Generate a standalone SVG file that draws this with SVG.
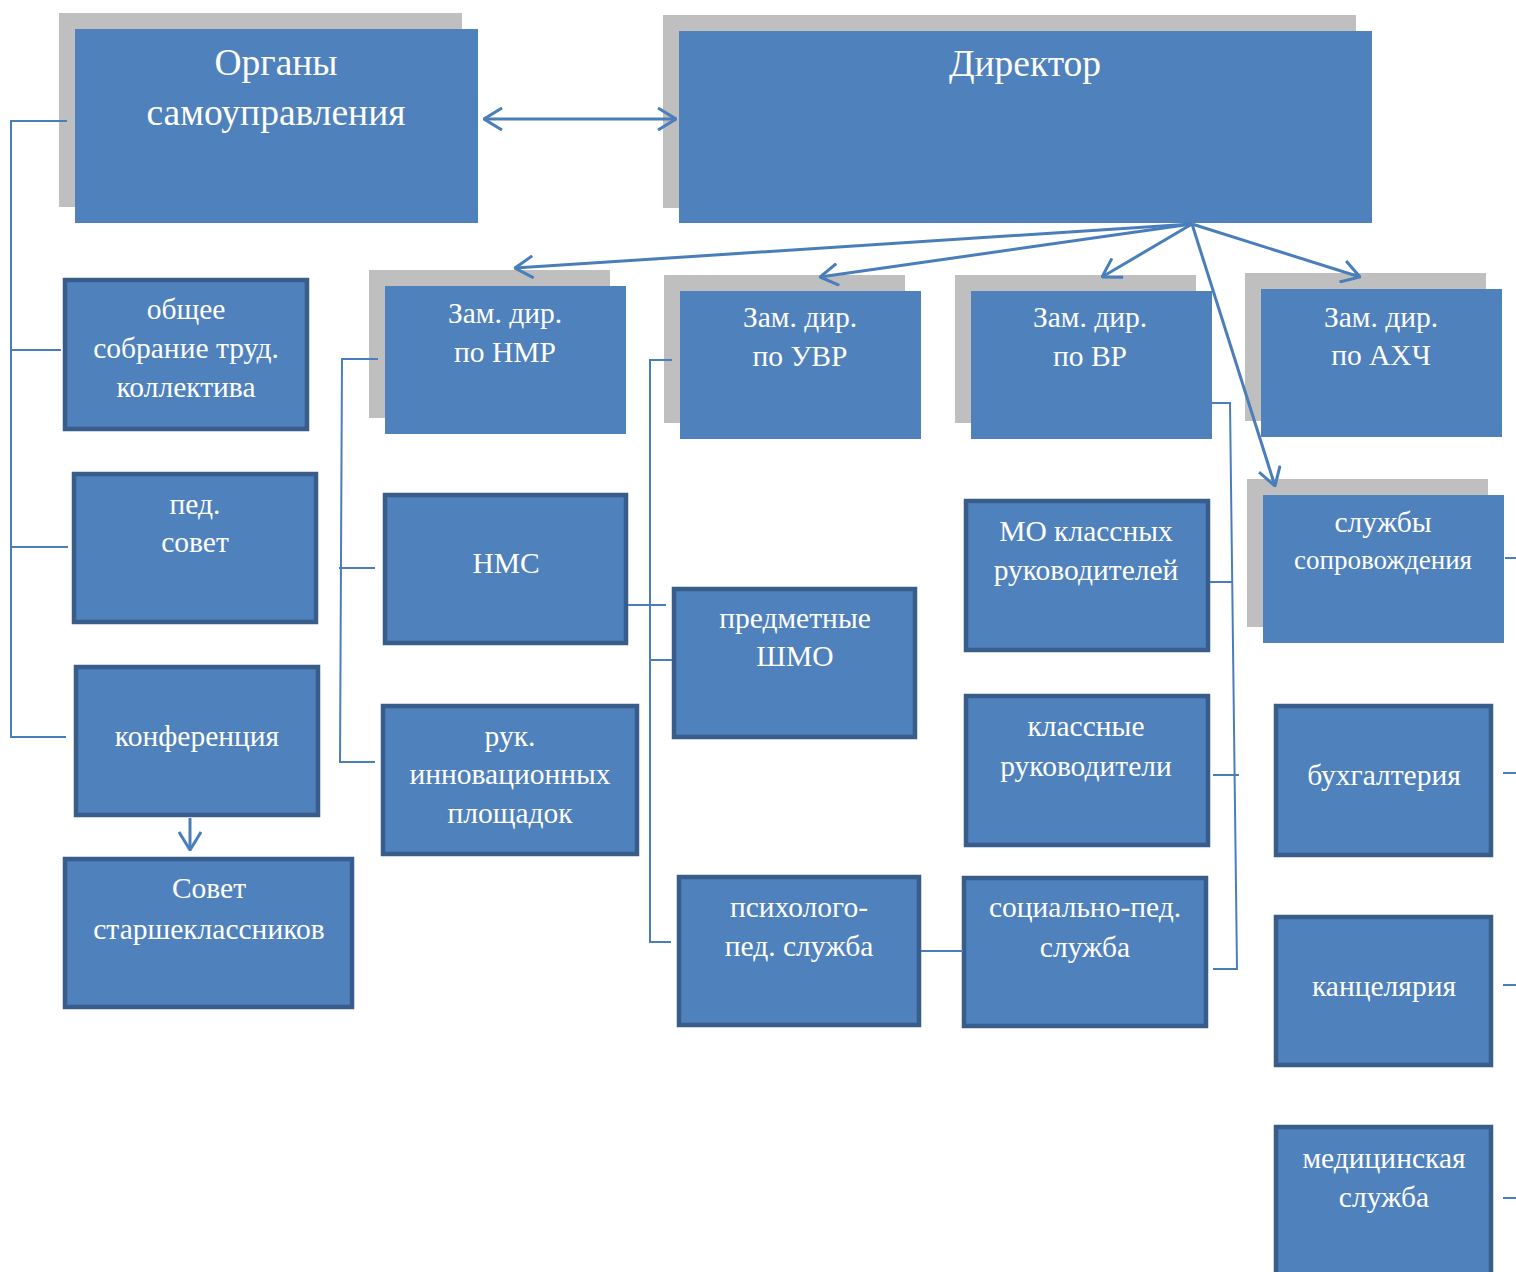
<svg xmlns="http://www.w3.org/2000/svg" width="1516" height="1272" viewBox="0 0 1516 1272">
  <style>
    .shadow { fill: #bfbfbf; }
    .main { fill: #4f81bd; }
    .box { fill: #4f81bd; stroke: #385d8a; stroke-width: 4.5; }
    .t { font-family: "Liberation Serif", "Times New Roman", serif; fill: #ffffff; text-anchor: middle; }
    .big { font-size: 37.5px; }
    .mid { font-size: 29.5px; }
    .small { font-size: 27px; }
    .link { fill: none; stroke: #4a7ebb; stroke-width: 2; }
    .arrow { fill: none; stroke: #4a7ebb; stroke-width: 3; }
  </style>
  <defs>
    <marker id="head" viewBox="0 0 20 24" refX="19" refY="12" markerWidth="20" markerHeight="24" markerUnits="userSpaceOnUse" orient="auto-start-reverse">
      <path d="M1,1 L19,12 L1,23" fill="none" stroke="#4a7ebb" stroke-width="3"/>
    </marker>
  </defs>
  <rect width="1516" height="1272" fill="#ffffff"/>

  <g id="organy">
    <rect class="shadow" x="59" y="13" width="403" height="194"/>
    <rect class="main" x="75" y="29" width="403" height="194"/>
    <text class="t big" x="276" y="75">Органы</text>
    <text class="t big" x="276" y="125">самоуправления</text>
  </g>

  <g id="direktor">
    <rect class="shadow" x="663" y="15" width="693" height="193"/>
    <rect class="main" x="679" y="31" width="693" height="192"/>
    <text class="t big" x="1025" y="76">Директор</text>
  </g>

  <g id="obshchee-sobranie">
    <rect class="box" x="65" y="280" width="242" height="149"/>
    <text class="t mid" x="186" y="319">общее</text>
    <text class="t mid" x="186" y="358">собрание труд.</text>
    <text class="t mid" x="186" y="397">коллектива</text>
  </g>

  <g id="ped-sovet">
    <rect class="box" x="74" y="474" width="242" height="148"/>
    <text class="t mid" x="195" y="514">пед.</text>
    <text class="t mid" x="195" y="552">совет</text>
  </g>

  <g id="konferentsiya">
    <rect class="box" x="76" y="667" width="242" height="148"/>
    <text class="t mid" x="197" y="746">конференция</text>
  </g>

  <g id="sovet-starsheklassnikov">
    <rect class="box" x="65" y="859" width="287" height="148"/>
    <text class="t mid" x="209" y="898">Совет</text>
    <text class="t mid" x="209" y="939">старшеклассников</text>
  </g>

  <g id="zam-nmr">
    <rect class="shadow" x="369" y="270" width="241" height="148"/>
    <rect class="main" x="385" y="286" width="241" height="148"/>
    <text class="t mid" x="505" y="323">Зам. дир.</text>
    <text class="t mid" x="505" y="362">по НМР</text>
  </g>

  <g id="nms">
    <rect class="box" x="385" y="495" width="241" height="148"/>
    <text class="t mid" x="506" y="573">НМС</text>
  </g>

  <g id="ruk-innovatsionnykh">
    <rect class="box" x="383" y="706" width="254" height="148"/>
    <text class="t mid" x="510" y="746">рук.</text>
    <text class="t mid" x="510" y="784">инновационных</text>
    <text class="t mid" x="510" y="823">площадок</text>
  </g>

  <g id="zam-uvr">
    <rect class="shadow" x="664" y="275" width="241" height="148"/>
    <rect class="main" x="680" y="291" width="241" height="148"/>
    <text class="t mid" x="800" y="327">Зам. дир.</text>
    <text class="t mid" x="800" y="366">по УВР</text>
  </g>

  <g id="predmetnye-shmo">
    <rect class="box" x="674" y="589" width="241" height="148"/>
    <text class="t mid" x="795" y="628">предметные</text>
    <text class="t mid" x="795" y="666">ШМО</text>
  </g>

  <g id="psikhologo-ped">
    <rect class="box" x="679" y="877" width="240" height="148"/>
    <text class="t mid" x="799" y="917">психолого-</text>
    <text class="t mid" x="799" y="956">пед. служба</text>
  </g>

  <g id="zam-vr">
    <rect class="shadow" x="955" y="275" width="241" height="148"/>
    <rect class="main" x="971" y="291" width="241" height="148"/>
    <text class="t mid" x="1090" y="327">Зам. дир.</text>
    <text class="t mid" x="1090" y="366">по ВР</text>
  </g>

  <g id="mo-klassnykh">
    <rect class="box" x="966" y="501" width="242" height="149"/>
    <text class="t mid" x="1086" y="541">МО классных</text>
    <text class="t mid" x="1086" y="580">руководителей</text>
  </g>

  <g id="klassnye-rukovoditeli">
    <rect class="box" x="966" y="696" width="242" height="149"/>
    <text class="t mid" x="1086" y="736">классные</text>
    <text class="t mid" x="1086" y="776">руководители</text>
  </g>

  <g id="sotsialno-ped">
    <rect class="box" x="964" y="878" width="242" height="148"/>
    <text class="t mid" x="1085" y="917">социально-пед.</text>
    <text class="t mid" x="1085" y="957">служба</text>
  </g>

  <g id="zam-akhch">
    <rect class="shadow" x="1245" y="273" width="241" height="148"/>
    <rect class="main" x="1261" y="289" width="241" height="148"/>
    <text class="t mid" x="1381" y="327">Зам. дир.</text>
    <text class="t mid" x="1381" y="365">по АХЧ</text>
  </g>

  <g id="sluzhby-soprovozhdeniya">
    <rect class="shadow" x="1247" y="479" width="241" height="148"/>
    <rect class="main" x="1263" y="495" width="241" height="148"/>
    <text class="t mid" x="1383" y="532">службы</text>
    <text class="t small" x="1383" y="569">сопровождения</text>
  </g>

  <g id="bukhgalteriya">
    <rect class="box" x="1276" y="706" width="215" height="149"/>
    <text class="t mid" x="1384" y="785">бухгалтерия</text>
  </g>

  <g id="kantselyariya">
    <rect class="box" x="1276" y="917" width="215" height="148"/>
    <text class="t mid" x="1384" y="996">канцелярия</text>
  </g>

  <g id="meditsinskaya-sluzhba">
    <rect class="box" x="1276" y="1127" width="215" height="160"/>
    <text class="t mid" x="1384" y="1168">медицинская</text>
    <text class="t mid" x="1384" y="1207">служба</text>
  </g>

  <!-- connectors, drawn over the shadows -->
  <g id="connectors">
    <line class="arrow" x1="484" y1="119" x2="676" y2="119" marker-start="url(#head)" marker-end="url(#head)"/>
    <line class="arrow" x1="1192" y1="224" x2="515" y2="268" marker-end="url(#head)"/>
    <line class="arrow" x1="1192" y1="224" x2="820" y2="277" marker-end="url(#head)"/>
    <line class="arrow" x1="1192" y1="224" x2="1102" y2="277" marker-end="url(#head)"/>
    <line class="arrow" x1="1192" y1="224" x2="1360" y2="277" marker-end="url(#head)"/>
    <line class="arrow" x1="1192" y1="224" x2="1275" y2="486" marker-end="url(#head)"/>
    <line class="arrow" x1="190" y1="818" x2="190" y2="850" marker-end="url(#head)"/>

    <!-- self-government bracket -->
    <path class="link" d="M67,121 H11 V737 H66 M11,350 H61 M11,547 H68"/>
    <!-- НМР bracket -->
    <path class="link" d="M378,359 H342 L340,762 H375 M339,568 H375"/>
    <!-- УВР bracket -->
    <path class="link" d="M672,360 H650 V942 H671 M650,660 H672 M628,605 H666"/>
    <line class="link" x1="921" y1="951" x2="963" y2="951"/>
    <!-- ВР bracket -->
    <path class="link" d="M1212,403 H1230 L1237,969 H1213 M1210,582 H1232 M1213,775 H1239"/>
    <!-- АХЧ right stubs -->
    <path class="link" d="M1505,558 H1516 M1503,773 H1516 M1503,985 H1516 M1503,1198 H1516"/>
  </g>
</svg>
